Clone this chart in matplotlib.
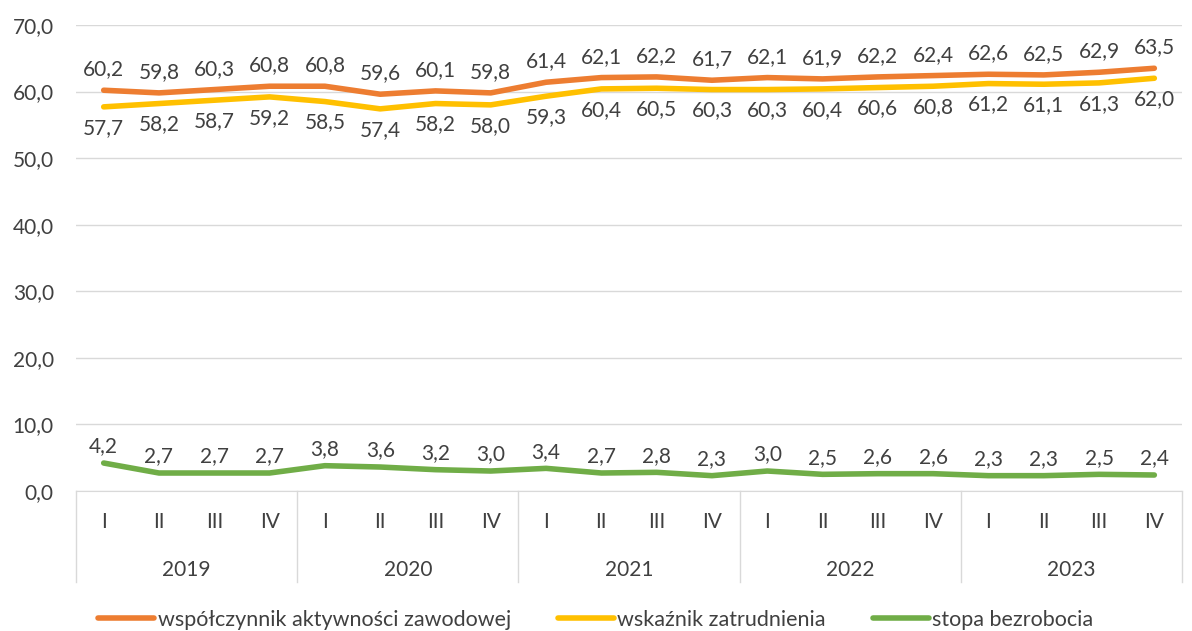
import numpy as np
import matplotlib.pyplot as plt
from matplotlib.lines import Line2D

# dane kwartalne 2019-2023
lata = ["2019", "2020", "2021", "2022", "2023"]
kwartaly = ["I", "II", "III", "IV"]
aktywnosc = [60.2, 59.8, 60.3, 60.8, 60.8, 59.6, 60.1, 59.8, 61.4, 62.1,
             62.2, 61.7, 62.1, 61.9, 62.2, 62.4, 62.6, 62.5, 62.9, 63.5]
zatrudnienie = [57.7, 58.2, 58.7, 59.2, 58.5, 57.4, 58.2, 58.0, 59.3, 60.4,
                60.5, 60.3, 60.3, 60.4, 60.6, 60.8, 61.2, 61.1, 61.3, 62.0]
bezrobocie = [4.2, 2.7, 2.7, 2.7, 3.8, 3.6, 3.2, 3.0, 3.4, 2.7,
              2.8, 2.3, 3.0, 2.5, 2.6, 2.6, 2.3, 2.3, 2.5, 2.4]
nazwy = ["współczynnik aktywności zawodowej", "wskaźnik zatrudnienia", "stopa bezrobocia"]

kolory = ["#ED7D31", "#FFC000", "#70AD47"]
txt = "#404040"
fs = 15
plt.rcParams['font.family'] = ['Lato', 'DejaVu Sans']

fig = plt.figure(figsize=(11.92, 6.31), dpi=100)
ax = fig.add_axes([0.0638, 0.2219, 0.9278, 0.7385])

n = len(aktywnosc)
x = np.arange(n)
serie = [aktywnosc, zatrudnienie, bezrobocie]
offsety = [15, -15, 12]  # przesuniecie etykiet w pt
for y, c, off in zip(serie, kolory, offsety):
    ax.plot(x, y, color=c, lw=4, solid_capstyle='round', zorder=3)
    for xi, yi in zip(x, y):
        ax.annotate(f"{yi:.1f}".replace(".", ","), (xi, yi), xytext=(0, off),
                    textcoords="offset points", ha="center", va="center",
                    fontsize=fs, color=txt)

ax.set_xlim(-0.5, n - 0.5)
ax.set_ylim(0, 70)
ax.set_yticks(np.arange(0, 71, 10))
ax.set_yticklabels([f"{v:.1f}".replace(".", ",") for v in np.arange(0, 71, 10)])
ax.tick_params(axis='y', length=0, pad=16, labelsize=fs, labelcolor=txt)
ax.grid(axis='y', color="#D9D9D9", lw=1)
ax.set_axisbelow(True)
for s in ["top", "right", "left"]:
    ax.spines[s].set_visible(False)
ax.spines["bottom"].set_color("#D9D9D9")
ax.set_xticks([])

# os kategorii dwupoziomowa
tr = ax.get_xaxis_transform()
for i in range(n):
    ax.text(i, -0.067, kwartaly[i % 4], transform=tr, ha="center", va="center",
            fontsize=fs, color=txt)
for j, rok in enumerate(lata):
    ax.text(j * 4 + 1.5, -0.17, rok, transform=tr, ha="center", va="center",
            fontsize=fs, color=txt)
for j in range(len(lata) + 1):
    ax.plot([j * 4 - 0.5] * 2, [0, -0.196], transform=tr, color="#D9D9D9",
            lw=1, clip_on=False)

uchwyty = [Line2D([], [], color=c, lw=4, solid_capstyle='round') for c in kolory]
fig.legend(uchwyty, nazwy, loc="center", bbox_to_anchor=(0.5, 0.018), ncol=3,
           frameon=False, fontsize=15.5, labelcolor=txt, handlelength=2.6,
           handletextpad=0.15, columnspacing=2.2, borderpad=0, borderaxespad=0)

fig.savefig("out.png", dpi=100)
